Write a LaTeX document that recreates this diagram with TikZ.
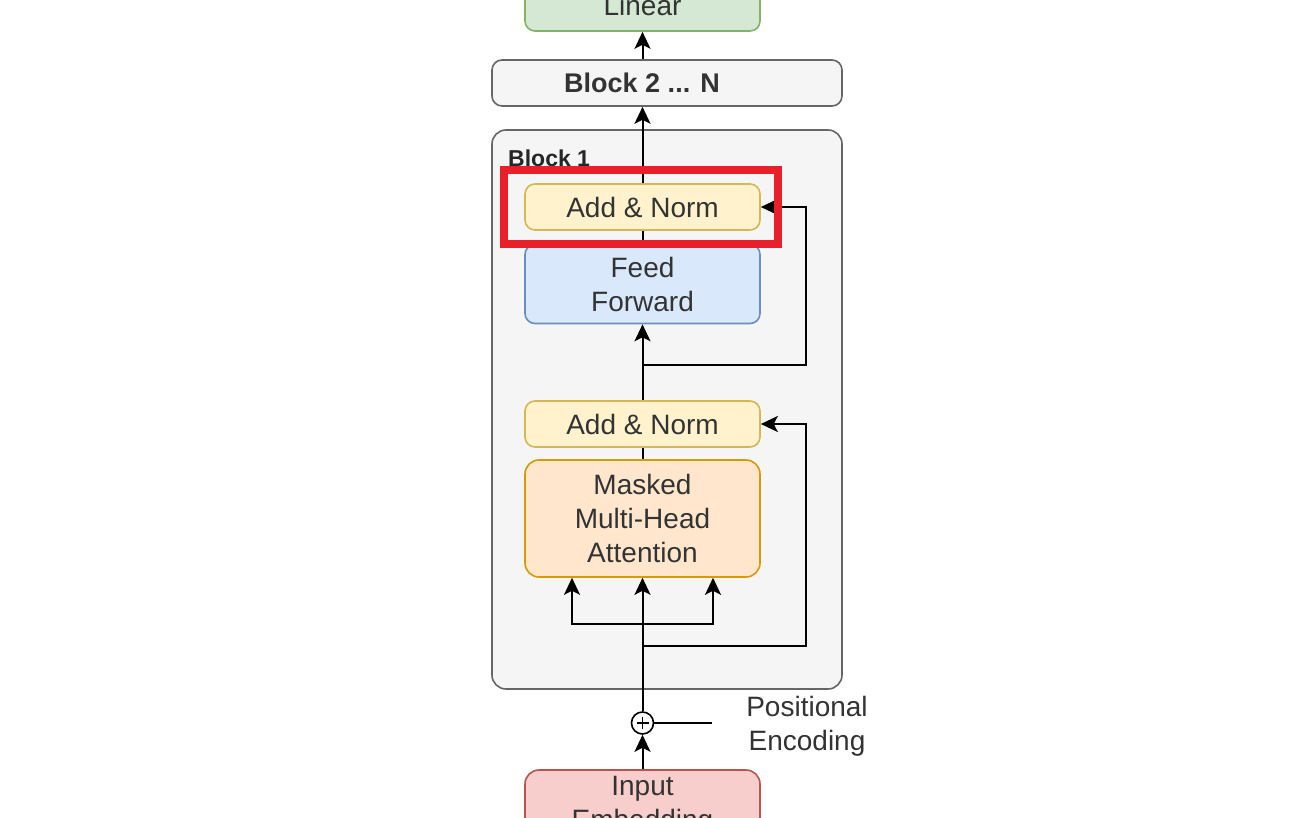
\documentclass[tikz,border=0pt]{standalone}
\usepackage{fontspec}
\setmainfont{Liberation Sans}
\usetikzlibrary{arrows.meta}
\definecolor{lingreen}{HTML}{D5E8D4}
\definecolor{lingreenline}{HTML}{82B366}
\definecolor{blockgray}{HTML}{F5F5F5}
\definecolor{blockline}{HTML}{666666}
\definecolor{normyellow}{HTML}{FFF2CC}
\definecolor{normline}{HTML}{D6B656}
\definecolor{ffblue}{HTML}{DAE8FC}
\definecolor{ffline}{HTML}{6C8EBF}
\definecolor{attorange}{HTML}{FFE6CC}
\definecolor{attline}{HTML}{D79B00}
\definecolor{embred}{HTML}{F8CECC}
\definecolor{embline}{HTML}{B85450}
\definecolor{markred}{HTML}{E8202A}
\tikzset{
  box/.style={draw, rounded corners=10pt, line width=1.6pt, align=center, text=black!80,
    minimum width=235pt, font=\fontsize{28}{34}\selectfont, inner sep=0pt},
  arr/.style={line width=2pt, -{Stealth[length=17pt,width=16pt,inset=4pt]}},
  wire/.style={line width=2pt}
}
\begin{document}
\begin{tikzpicture}[x=1pt, y=-1pt]
\useasboundingbox (0,0) rectangle (1315,818);
\node[box, fill=lingreen, draw=lingreenline, minimum height=52pt] (linear) at (642.5,5) {Linear};
\node[box, fill=blockgray, draw=blockline, minimum width=350pt, minimum height=46pt] (block2) at (667,83) {};
\node[font=\bfseries\fontsize{27}{32}\selectfont, text=black!80, inner sep=0pt] (block2text) at (642,83) {Block 2 ... N};
\node[box, fill=blockgray, draw=blockline, rounded corners=14pt, minimum width=350pt, minimum height=559pt] (block1) at (667,409.5) {};
\node[anchor=base west, inner sep=0pt, font=\bfseries\fontsize{23}{27}\selectfont, text=black!85] (block1label) at (508,167) {Block 1};
\node[box, fill=normyellow, draw=normline, minimum height=46pt] (norm2) at (642.5,207) {Add \& Norm};
\node[box, fill=ffblue, draw=ffline, minimum height=79pt] (ff) at (642.5,284) {Feed\\Forward};
\node[box, fill=normyellow, draw=normline, minimum height=46pt] (norm1) at (642.5,424) {Add \& Norm};
\node[box, fill=attorange, draw=attline, rounded corners=14pt, minimum height=117pt] (mha) at (642.5,518.5) {Masked\\Multi-Head\\Attention};
\node[draw, circle, line width=1.6pt, minimum size=22pt, inner sep=0pt] (plus) at (642.5,723) {};
\node[box, fill=embred, draw=embline, rounded corners=14pt, minimum height=72pt] (input) at (642.5,806) {Input\\Embedding};
\node[align=center, text=black!80, font=\fontsize{28}{34}\selectfont] (posenc) at (807,726) {Positional\\Encoding};
\coordinate (res2) at (642.5,365);
\coordinate (res2turn) at (806,365);
\coordinate (res1) at (642.5,646);
\coordinate (res1turn) at (806,646);
\coordinate (split) at (642.5,624);
\coordinate (posend) at (712,723);
\draw[line width=1.4pt] ([xshift=-6pt]plus.center) -- ([xshift=6pt]plus.center);
\draw[line width=1.4pt] ([yshift=-6pt]plus.center) -- ([yshift=6pt]plus.center);
\draw[arr] (linear.south |- block2.north) -- (linear.south);
\draw[arr] (norm2.north) -- (norm2.north |- block2.south);
\draw[wire] (norm2.south) -- (ff.north);
\draw[arr] (norm1.north) -- (ff.south);
\draw[arr] (res2) -- (res2turn) |- (norm2.east);
\draw[wire] (norm1.south) -- (mha.north);
\draw[arr] (plus.north) -- (mha.south);
\draw[arr] (split) -| ([xshift=-70.5pt]mha.south);
\draw[arr] (split) -| ([xshift=70.5pt]mha.south);
\draw[arr] (res1) -- (res1turn) |- (norm1.east);
\draw[wire] (plus.east) -- (posend);
\draw[arr] (input.north) -- (plus.south);
\draw[markred, line width=8pt] (504,170.5) rectangle (778,244);
\end{tikzpicture}
\end{document}
